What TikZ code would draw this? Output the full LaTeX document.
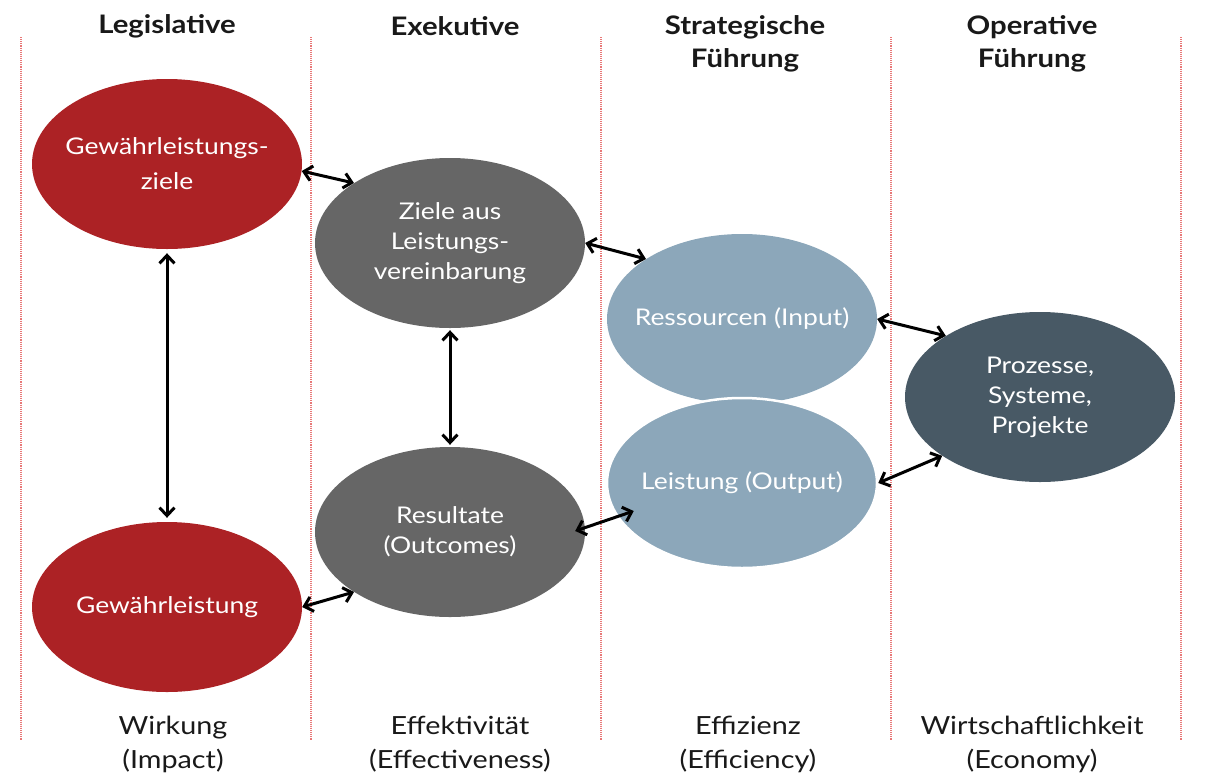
\documentclass[tikz,border=0pt]{standalone}
\usepackage{fontspec}
\setmainfont{Lato}[FakeStretch=1.15]
\usetikzlibrary{arrows.meta, shapes.geometric, positioning, calc}

\definecolor{LegisRed}{RGB}{172,34,37}
\definecolor{ExekGray}{RGB}{102,102,102}
\definecolor{StratBlue}{RGB}{140,167,186}
\definecolor{OperSlate}{RGB}{72,89,101}
\definecolor{ColumnLine}{RGB}{232,120,120}
\definecolor{TextDark}{RGB}{25,25,25}

\tikzset{
	goal/.style={ellipse, minimum width=270pt, minimum height=170pt, inner sep=-25pt,
		align=center, text=white, font=\fontsize{23}{30}\selectfont},
	head/.style={font=\bfseries\fontsize{25.5}{33}\selectfont, align=center, text=TextDark},
	foot/.style={font=\fontsize{25}{34}\selectfont, align=center, text=TextDark},
	link/.style={{Straight Barb[length=8pt,width=15pt]}-{Straight Barb[length=8pt,width=15pt]},
		line width=3pt},
	column/.style={ColumnLine, line width=1.1pt, densely dotted},
}

\begin{document}
\begin{tikzpicture}[x=1pt, y=-1pt]
	\useasboundingbox (0,0) rectangle (1207,782);
	% column separators
	\foreach \x in {21,311,601,891,1181}
		{\draw[column] (\x,37) -- (\x,740);}

	% column titles
	\node[head] (legis) at (167,26) {Legislative};
	\node[head] (exek) at (455,26) {Exekutive};
	\node[head] (strat) at (745,44) {Strategische\\Führung};
	\node[head] (oper) at (1032,44) {Operative\\Führung};

	% ellipses
	\node[goal, fill=LegisRed, font=\fontsize{23}{35}\selectfont] (zielG) at (167,164) {Gewährleistungs-\\ziele};
	\node[goal, fill=LegisRed] (gewaehr) at (167,607) {Gewährleistung};
	\node[goal, fill=ExekGray] (zielL) at (450,243) {Ziele aus\\Leistungs-\\vereinbarung};
	\node[goal, fill=ExekGray] (result) at (450,532) {Resultate\\(Outcomes)};
	\node[goal, fill=StratBlue] (input) at (742,319) {Ressourcen (Input)};
	\node[goal, fill=StratBlue, draw=white, line width=2.5pt] (output) at (742,483) {Leistung (Output)};
	\node[goal, fill=OperSlate] (prozess) at (1040,397) {Prozesse,\\Systeme,\\Projekte};

	% arrows
	\draw[link] (zielG.-3) -- (zielL.148);
	\draw[link, shorten <=4pt, shorten >=4pt] (zielG.south) -- (gewaehr.north);
	\draw[link, shorten <=2pt, shorten >=2pt] (zielL.south) -- (result.north);
	\draw[link] (zielL.east) -- (input.148);
	\draw[link] ($(result.east)+(-10,-1)$) -- ($(output.west)+(28,28)$);
	\draw[link] (gewaehr.east) -- (result.212);
	\draw[link] (input.east) -- (prozess.147);
	\draw[link] (output.east) -- (prozess.211);

	% measures
	\node[foot] (wirk) at (173,744) {Wirkung\\(Impact)};
	\node[foot] (effekt) at (460,744) {Effektivität\\(Effectiveness)};
	\node[foot] (effiz) at (748,744) {Effizienz\\(Efficiency)};
	\node[foot] (wirtsch) at (1032,744) {Wirtschaftlichkeit\\(Economy)};
\end{tikzpicture}
\end{document}
